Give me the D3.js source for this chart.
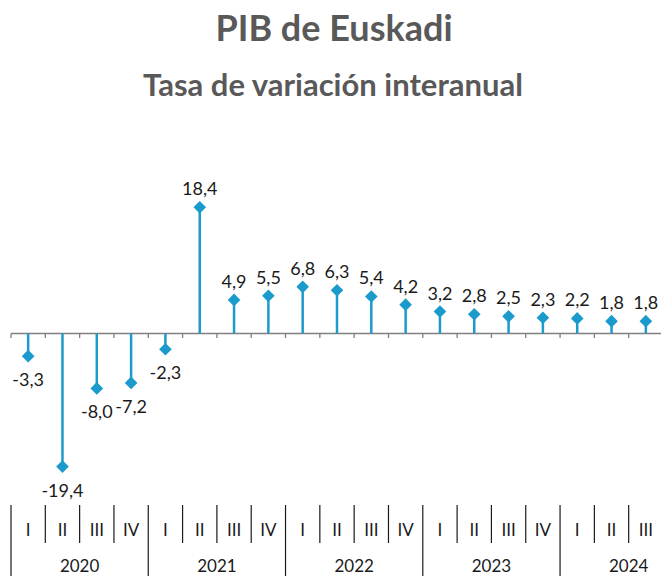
<!DOCTYPE html>
<html>
<head>
<meta charset="utf-8">
<script src="https://cdn.jsdelivr.net/npm/d3@7"></script>
<style>
  body { margin: 0; background: #fff; }
  svg { display: block; font-family: Lato, "Open Sans", sans-serif; }
  .title { fill: #595959; font-weight: bold; text-anchor: middle; }
  .valueLabel { fill: #1a1a1a; font-size: 18px; text-anchor: middle; }
  .periodLabel { fill: #1a1a1a; font-size: 17px; text-anchor: middle; }
</style>
</head>
<body>
<div id="chart"></div>
<script>
// quarters and years
let years = ["2020", "2021", "2022", "2023", "2024"];
let quarters = ["I", "II", "III", "IV"];
let periods = ["2020-I","2020-II","2020-III","2020-IV","2021-I","2021-II","2021-III","2021-IV",
  "2022-I","2022-II","2022-III","2022-IV","2023-I","2023-II","2023-III","2023-IV",
  "2024-I","2024-II","2024-III"];
// interannual growth rate, %
let values = [-3.3, -19.4, -8.0, -7.2, -2.3, 18.4, 4.9, 5.5, 6.8, 6.3, 5.4, 4.2, 3.2, 2.8, 2.5, 2.3, 2.2, 1.8, 1.8];

let width = 661, height = 576;
let color = "#1b9bcc";
let fmt = v => d3.format(".1f")(v).replace(".", ",").replace("−", "-");

let svg = d3.select("#chart").append("svg")
  .attr("width", width)
  .attr("height", height);

svg.append("text").classed("title", true)
  .attr("x", 334).attr("y", 41)
  .style("font-size", "36px")
  .text("PIB de Euskadi");

svg.append("text").classed("title", true)
  .attr("x", 333).attr("y", 96)
  .style("font-size", "31px")
  .text("Tasa de variación interanual");

let x = d3.scaleBand()
  .domain(periods)
  .range([11, 663]);

let y = d3.scaleLinear()
  .domain([-20, 20])
  .range([470.7, 196.3]);

//zero axis with ticks at band boundaries
let boundaries = d3.range(periods.length + 1).map(i => x.range()[0] + i * x.step());

svg.append("line")
  .attr("x1", x.range()[0]).attr("x2", width)
  .attr("y1", y(0)).attr("y2", y(0))
  .attr("stroke", "#7f7f7f").attr("stroke-width", 1.3);

svg.selectAll(".tick0").data(boundaries).enter().append("line")
  .attr("x1", d => d).attr("x2", d => d)
  .attr("y1", y(0)).attr("y2", y(0) + 4.5)
  .attr("stroke", "#7f7f7f").attr("stroke-width", 1.3);

//stems
svg.selectAll(".stem").data(values).enter().append("line")
  .attr("x1", (d, i) => x(periods[i]) + x.bandwidth() / 2)
  .attr("x2", (d, i) => x(periods[i]) + x.bandwidth() / 2)
  .attr("y1", y(0))
  .attr("y2", d => y(d))
  .attr("stroke", color)
  .attr("stroke-width", 2.5);

//diamonds
svg.selectAll(".marker").data(values).enter().append("path")
  .attr("d", d3.symbol().type(d3.symbolSquare).size(80))
  .attr("transform", (d, i) => `translate(${x(periods[i]) + x.bandwidth() / 2},${y(d)}) rotate(45)`)
  .attr("fill", color);

//value labels
svg.selectAll(".valueLabel").data(values).enter().append("text")
  .classed("valueLabel", true)
  .attr("x", (d, i) => x(periods[i]) + x.bandwidth() / 2)
  .attr("y", d => d >= 0 ? y(d) - 12 : y(d) + 30)
  .text(d => fmt(d));

//period table
let tableTop = 505, rowSplit = 543;

svg.selectAll(".sep").data(boundaries).enter().append("line")
  .attr("x1", d => d).attr("x2", d => d)
  .attr("y1", tableTop)
  .attr("y2", (d, i) => i % 4 === 0 ? height : rowSplit)
  .attr("stroke", "#1a1a1a")
  .attr("stroke-width", 1.2);

svg.selectAll(".quarterLabel").data(periods).enter().append("text")
  .classed("periodLabel", true)
  .attr("x", d => x(d) + x.bandwidth() / 2)
  .attr("y", 536)
  .text(d => d.split("-")[1]);

svg.selectAll(".yearLabel").data(years).enter().append("text")
  .classed("periodLabel", true)
  .attr("x", d => {
    let qs = periods.filter(p => p.startsWith(d));
    let start = x(qs[0]);
    let end = start + 4 * x.step();
    return (start + end) / 2;
  })
  .attr("y", 572)
  .text(d => d);
</script>
</body>
</html>
